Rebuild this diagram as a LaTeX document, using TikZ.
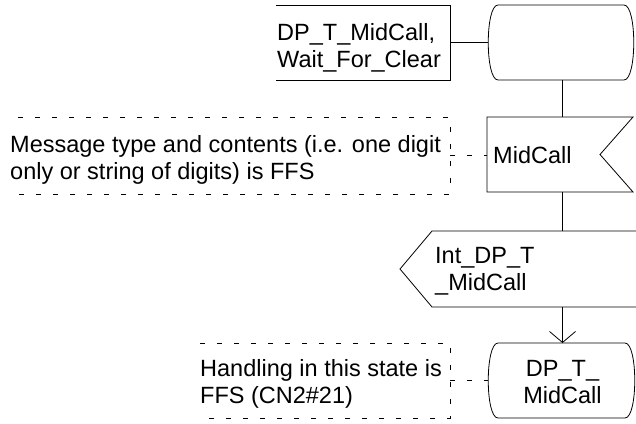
\documentclass[tikz,border=0pt]{standalone}
\usepackage{fontspec}
\setmainfont{Liberation Sans}
\usetikzlibrary{arrows.meta,positioning,calc}

\tikzset{
  sdl/.style={line width=0.8pt},
  cmt/.style={line width=0.8pt, dash pattern=on 5pt off 12pt},
  shp/.style={inner sep=0pt, outer sep=0pt},
  lbl/.style={font=\fontsize{23.5}{27}\selectfont, inner sep=0pt, anchor=base west, align=left}
}
% SDL state symbol drawn round a placeholder node
\newcommand{\sdlstate}[1]{%
  \draw[sdl] ($(#1.north west)+(10,0)$) -- ($(#1.north east)+(-10,0)$)
    .. controls ($(#1.north east)+(3,0)$) and ($(#1.south east)+(3,0)$) .. ($(#1.south east)+(-10,0)$)
    -- ($(#1.south west)+(10,0)$)
    .. controls ($(#1.south west)+(-3,0)$) and ($(#1.north west)+(-3,0)$) .. cycle;}

\begin{document}
\begin{tikzpicture}[x=1pt,y=-1pt]
  \useasboundingbox (0,0) rectangle (636,423);
  \coordinate (spine) at (562.5,0);

  % placeholders
  \node[shp, minimum width=174pt, minimum height=75pt] (txt) at (363,42.5) {};
  \node[shp, minimum width=146pt, minimum height=75pt] (st1) at (561,42.5) {};
  \node[shp, minimum width=146pt, minimum height=75pt] (inp) at (560,154.5) {};
  \node[shp, minimum width=432pt, minimum height=77pt] (c1) at (234,155.5) {};
  \node[shp, minimum width=236pt, minimum height=76pt] (outp) at (518,269) {};
  \node[shp, minimum width=147pt, minimum height=75pt] (st2) at (561.5,380.5) {};
  \node[shp, minimum width=250pt, minimum height=75pt] (c2) at (325,380.5) {};

  % symbols
  \draw[sdl] (txt.north west) -- (txt.north east) -- (txt.south east) -- (txt.south west);
  \sdlstate{st1}
  \draw[sdl] (inp.north west) -- (inp.north east) -- ($(inp.east)+(-33,0)$)
    -- (inp.south east) -- (inp.south west) -- cycle;
  \draw[sdl] (outp.north east) -- ($(outp.north west)+(32,0)$) -- (outp.west)
    -- ($(outp.south west)+(32,0)$) -- (outp.south east);
  \sdlstate{st2}
  \draw[cmt] (c1.north west) -- (c1.north east) -- (c1.south east) -- (c1.south west);
  \draw[cmt] (c2.north west) -- (c2.north east) -- (c2.south east) -- (c2.south west);

  % texts (base = last line)
  \node[lbl] (txtlbl) at (277,67) {DP\_T\_MidCall,\\Wait\_For\_Clear};
  \node[lbl] (inplbl) at (493,163) {MidCall};
  \node[lbl] (outplbl) at (435,290) {Int\_DP\_T\\\_MidCall};
  \node[lbl, align=center, anchor=base] (st2lbl) at (562.5,403) {DP\_T\_\\MidCall};
  \node[lbl] (c1lbl) at (10,179) {Message type and contents (i.e. one digit\\only or string of digits) is FFS};
  \node[lbl] (c2lbl) at (200,403) {Handling in this state is\\FFS (CN2\#21)};

  % connectors
  \draw[sdl] (txt.east) -- (txt.east -| st1.west);
  \draw[sdl] (st1.south -| spine) -- (inp.north -| spine);
  \draw[sdl] (inp.south -| spine) -- (outp.north -| spine);
  \draw[sdl, -{Straight Barb[length=11pt, width=26pt]}] (outp.south -| spine) -- (st2.north -| spine);
  \draw[cmt] (c1.east) -- (c1.east -| inp.west);
  \draw[cmt] (c2.east) -- (c2.east -| st2.west);
\end{tikzpicture}
\end{document}
